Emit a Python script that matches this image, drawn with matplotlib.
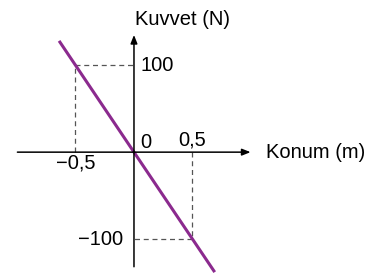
import matplotlib.pyplot as plt

plt.rcParams['font.family'] = ['Liberation Sans', 'DejaVu Sans']

# data
line_x = [-0.64, 0.69]
line_y = [128, -138]
mark_x = [-0.5, 0.5]
mark_y = [100, -100]
x_labels = ["\u22120,5", "0,5"]
y_labels = ["100", "\u2212100"]

fig = plt.figure(figsize=(3.79, 2.73), dpi=100)
ax = fig.add_axes([0, 0, 1, 1])
ax.set_xlim(-1.145, 2.094)
ax.set_ylim(-139, 175)
ax.axis("off")

# axes with arrows
ax.annotate("", xy=(1.02, 0), xytext=(-1.02, 0),
            arrowprops=dict(arrowstyle="-|>,head_length=0.5,head_width=0.2", color="black", lw=1.1))
ax.annotate("", xy=(0, 138), xytext=(0, -135),
            arrowprops=dict(arrowstyle="-|>,head_length=0.5,head_width=0.2", color="black", lw=1.1))

# dashed guides
for x, y in zip(mark_x, mark_y):
    ax.plot([x, x], [0, y], color="#555555", lw=0.9, ls=(0, (4, 3)))
    ax.plot([x, 0], [y, y], color="#555555", lw=0.9, ls=(0, (4, 3)))

ax.plot(line_x, line_y, color="#8b2a8e", lw=2.2, solid_capstyle="butt")

fs = 14.5
ax.text(0.06, 100, y_labels[0], fontsize=fs, ha="left", va="center")
ax.text(-0.09, -100, y_labels[1], fontsize=fs, ha="right", va="center")
ax.text(0.05, 11, "0", fontsize=fs, ha="left", va="center")
ax.text(mark_x[1], 14, x_labels[1], fontsize=fs, ha="center", va="center")
ax.text(mark_x[0], -13, x_labels[0], fontsize=fs, ha="center", va="center")
ax.text(0.01, 152, "Kuvvet (N)", fontsize=fs, ha="left", va="center")
ax.text(1.13, 0, "Konum (m)", fontsize=fs, ha="left", va="center")

plt.savefig("out.png", dpi=100)
